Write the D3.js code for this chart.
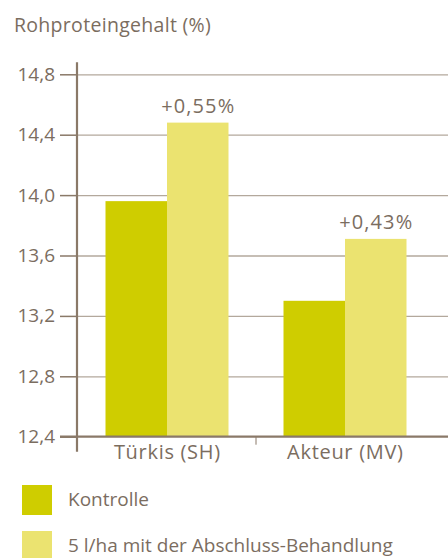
<!DOCTYPE html>
<html><head><meta charset="utf-8">
<script src="https://cdn.jsdelivr.net/npm/d3@7"></script>
<style>body{margin:0;background:#fff;} svg{display:block;font-family:"Open Sans",sans-serif;}</style>
</head><body>
<script>
const categories = ["Türkis (SH)", "Akteur (MV)"];
const seriesNames = ["Kontrolle", "5 l/ha mit der Abschluss-Behandlung"];
const kontrolle = [13.96, 13.30];
const behandlung = [14.48, 13.71];
const diffLabels = ["+0,55%", "+0,43%"];
const yTicks = [12.4, 12.8, 13.2, 13.6, 14.0, 14.4, 14.8];
const colors = ["#cfcd00", "#ebe370"];
const textColor = "#7b6d5f";
const axisColor = "#8a7968";
const gridColor = "#b3a89c";

const W = 448, H = 558;
const svg = d3.select("body").append("svg").attr("width", W).attr("height", H);

const y = d3.scaleLinear().domain([12.4, 14.8]).range([436.7, 74.3]);
const x = d3.scaleBand().domain(categories).range([78, 434]).paddingInner(0).paddingOuter(0);
const inner = d3.scaleBand().domain([0, 1]).range([27.5, x.bandwidth() - 27.5]);
const fmt = v => d3.format(".1f")(v).replace(".", ",");

// title
svg.append("text").attr("x", 14).attr("y", 32).attr("fill", textColor)
  .attr("font-size", 19.5).attr("letter-spacing", 0.3).text("Rohproteingehalt (%)");

// gridlines
const grid = svg.append("g").attr("transform", "translate(77,0)")
  .call(d3.axisRight(y).tickValues(yTicks.slice(1)).tickSize(W - 77).tickFormat(""));
grid.select(".domain").remove();
grid.selectAll("line").attr("stroke", gridColor).attr("stroke-width", 1.3);

// bars
const data = categories.map((c, i) => ({c, vals: [kontrolle[i], behandlung[i]]}));
const groups = svg.append("g").selectAll("g").data(data).join("g")
  .attr("transform", d => `translate(${x(d.c)},0)`);
groups.selectAll("rect").data(d => d.vals.map((v, j) => ({v, j}))).join("rect")
  .attr("x", d => inner(d.j)).attr("width", inner.bandwidth())
  .attr("y", d => y(d.v)).attr("height", d => y(12.4) - y(d.v))
  .attr("fill", d => colors[d.j]);

// diff labels
groups.append("text").attr("x", inner(1) + inner.bandwidth() / 2 + 0.5)
  .attr("y", (d, i) => y(behandlung[i]) - 10)
  .attr("text-anchor", "middle").attr("fill", textColor).attr("font-size", 20)
  .attr("letter-spacing", 1.1)
  .text((d, i) => diffLabels[i]);

// left axis
const ay = svg.append("g").attr("transform", "translate(77,0)")
  .call(d3.axisLeft(y).tickValues(yTicks).tickSize(17).tickPadding(5).tickFormat(fmt));
ay.select(".domain").remove();
ay.selectAll("line").attr("stroke", axisColor).attr("stroke-width", 1.5);
ay.selectAll("text").attr("fill", textColor).attr("font-size", 19)
  .attr("font-family", "'Open Sans',sans-serif");
svg.append("line").attr("x1", 77).attr("x2", 77)
  .attr("y1", y(14.8) - 12).attr("y2", y(12.4) + 15)
  .attr("stroke", axisColor).attr("stroke-width", 2.2);

// bottom axis
const ax = svg.append("g").attr("transform", `translate(0,${y(12.4)})`)
  .call(d3.axisBottom(x).tickSize(0).tickPadding(8));
ax.select(".domain").remove();
ax.selectAll("text").attr("fill", textColor).attr("font-size", 20)
  .attr("letter-spacing", 0.7).attr("dx", 0.35)
  .attr("font-family", "'Open Sans',sans-serif");
svg.append("line").attr("x1", 60).attr("x2", W).attr("y1", y(12.4)).attr("y2", y(12.4))
  .attr("stroke", axisColor).attr("stroke-width", 2.2);
svg.append("line").attr("x1", x(categories[1])).attr("x2", x(categories[1]))
  .attr("y1", y(12.4)).attr("y2", y(12.4) + 8)
  .attr("stroke", axisColor).attr("stroke-width", 1);

// legend
const leg = svg.append("g").selectAll("g").data(seriesNames).join("g")
  .attr("transform", (d, i) => `translate(22,${485 + i * 46})`);
leg.append("rect").attr("width", 30).attr("height", 30).attr("fill", (d, i) => colors[i]);
leg.append("text").attr("x", 46).attr("y", 21).attr("fill", textColor)
  .attr("font-size", 19).text(d => d);
</script>
</body></html>
